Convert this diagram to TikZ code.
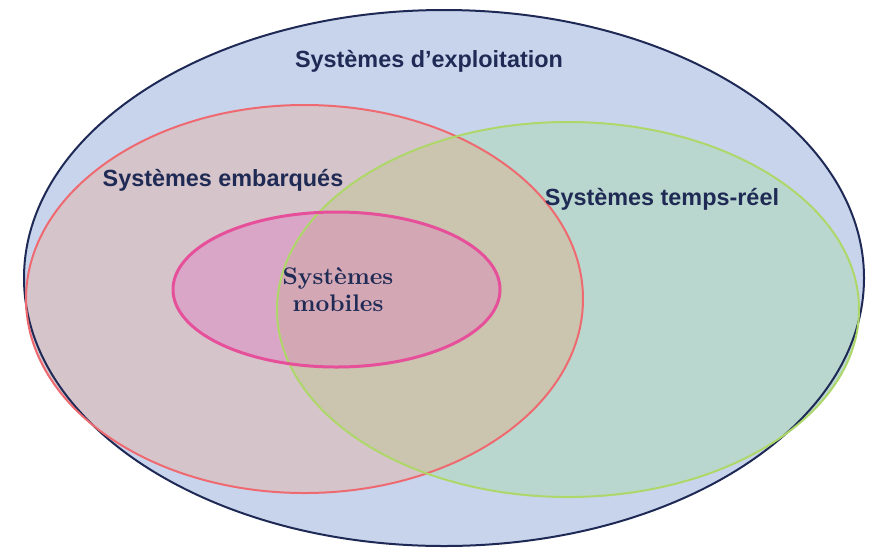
\documentclass[tikz,border=0pt]{standalone}
\usepackage{fontspec}
\newfontfamily\labelfont{Liberation Sans}
\newfontfamily\mobfont{lmroman10-bold}[Extension=.otf]
\definecolor{osfill}{HTML}{C8D4EC}
\definecolor{osline}{HTML}{1E2A55}
\definecolor{embfill}{HTML}{D6C4CB}
\definecolor{embline}{HTML}{EE6A70}
\definecolor{trfill}{HTML}{BAD7CF}
\definecolor{trline}{HTML}{AED76A}
\definecolor{bothfill}{HTML}{CBC4AE}
\definecolor{mobfill}{HTML}{DAA6C8}
\definecolor{mobtrfill}{HTML}{D4A7B5}
\definecolor{mobline}{HTML}{E6509A}
\definecolor{labelcol}{HTML}{1F2B55}
\tikzset{
  setlabel/.style={text=labelcol, inner sep=0pt, anchor=base,
    font=\labelfont\bfseries\fontsize{23.4}{27}\selectfont},
  mobilelabel/.style={text=labelcol, inner sep=0pt, align=center,
    font=\mobfont\fontsize{24}{27}\selectfont}
}
\begin{document}
\begin{tikzpicture}[x=1pt,y=-1pt]
  % canvas
  \fill[white] (0,0) rectangle (872,550);
  \useasboundingbox (0,0) rectangle (872,550);
  % outer set: operating systems
  \fill[osfill] (444,278) ellipse [x radius=420, y radius=268];
  % embedded and real-time systems
  \fill[embfill] (304.5,299) ellipse [x radius=278.5, y radius=194];
  \fill[trfill] (568,309.5) ellipse [x radius=291, y radius=187.5];
  \begin{scope}
    \clip (304.5,299) ellipse [x radius=278.5, y radius=194];
    \fill[bothfill] (568,309.5) ellipse [x radius=291, y radius=187.5];
  \end{scope}
  % mobile systems
  \fill[mobfill] (336.5,289.5) ellipse [x radius=163.5, y radius=77.5];
  \begin{scope}
    \clip (568,309.5) ellipse [x radius=291, y radius=187.5];
    \fill[mobtrfill] (336.5,289.5) ellipse [x radius=163.5, y radius=77.5];
  \end{scope}
  % outlines
  \draw[osline, line width=2pt] (444,278) ellipse [x radius=420, y radius=268];
  \draw[embline, line width=2pt] (304.5,299) ellipse [x radius=278.5, y radius=194];
  \draw[trline, line width=2pt] (568,309.5) ellipse [x radius=291, y radius=187.5];
  \draw[mobline, line width=3pt] (336.5,289.5) ellipse [x radius=163.5, y radius=77.5];
  % labels
  \node[setlabel] (os) at (429,67) {Systèmes d’exploitation};
  \node[setlabel] (emb) at (223,186) {Systèmes embarqués};
  \node[setlabel] (tr) at (662,205) {Systèmes temps-réel};
  \node[mobilelabel] (mob) at (338,290) {Systèmes\\mobiles};
\end{tikzpicture}
\end{document}
